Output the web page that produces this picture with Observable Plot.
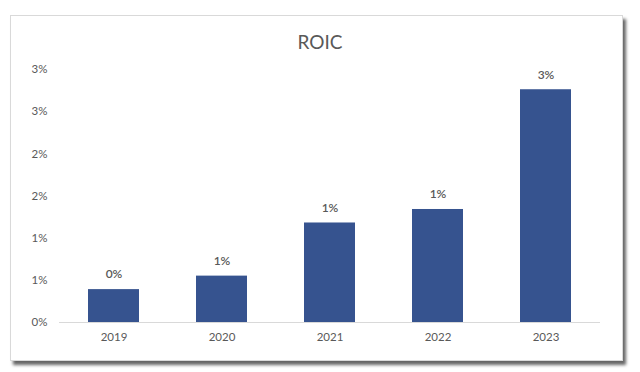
<!DOCTYPE html>
<html>
<head>
<meta charset="utf-8">
<script src="https://cdn.jsdelivr.net/npm/d3@7"></script>
<script src="https://cdn.jsdelivr.net/npm/@observablehq/plot@0.6"></script>
<style>
  html, body { margin: 0; padding: 0; background: #ffffff; }
  #wrap { position: relative; width: 640px; height: 372px; overflow: hidden; }
  #card {
    position: absolute; left: 10px; top: 15px; width: 611px; height: 344px;
    background: #ffffff; border: 1px solid #d9d9d9;
    box-shadow: 3px 4px 3px rgba(0,0,0,0.6);
  }
  #title {
    position: absolute; left: 0; top: 30px; width: 640px; text-align: center;
    font-family: Lato, "Open Sans", sans-serif; font-size: 19px; color: #595959;
    line-height: 24px;
  }
  #chart { position: absolute; left: 0; top: 0; }
</style>
</head>
<body>
<div id="wrap">
  <div id="card"></div>
  <div id="title">ROIC</div>
  <div id="chart"></div>
</div>
<script>
const years = ["2019", "2020", "2021", "2022", "2023"];
const roic = [0.0039, 0.0055, 0.0118, 0.0134, 0.0276];
const barLabels = ["0%", "1%", "1%", "1%", "3%"];
const yTicks = [0, 0.005, 0.01, 0.015, 0.02, 0.025, 0.03];
const yTickLabels = ["0%", "1%", "1%", "2%", "2%", "3%", "3%"];

const data = years.map((y, i) => ({year: y, value: roic[i], label: barLabels[i]}));

const chart = Plot.plot({
  width: 640,
  height: 372,
  marginLeft: 59,
  marginRight: 40,
  marginTop: 69,
  marginBottom: 50,
  style: {fontFamily: "Lato, 'Open Sans', sans-serif", fontSize: "11.5px", color: "#595959", background: "transparent"},
  x: {domain: years, paddingInner: 0.528, paddingOuter: 0.264, label: null},
  y: {domain: [0, 0.03], label: null},
  marks: [
    Plot.axisY({ticks: yTicks, tickFormat: (d, i) => yTickLabels[i], tickSize: 0, tickPadding: 12, label: null}),
    Plot.axisX({tickSize: 0, tickPadding: 10, label: null}),
    Plot.barY(data, {x: "year", y: "value", fill: "#36538f"}),
    Plot.ruleY([0], {stroke: "#d9d9d9", strokeWidth: 1}),
    Plot.text(data, {x: "year", y: "value", text: "label", dy: -15, fill: "#595959", fontWeight: 600, fontSize: 12})
  ]
});
document.getElementById("chart").appendChild(chart);
</script>
</body>
</html>
